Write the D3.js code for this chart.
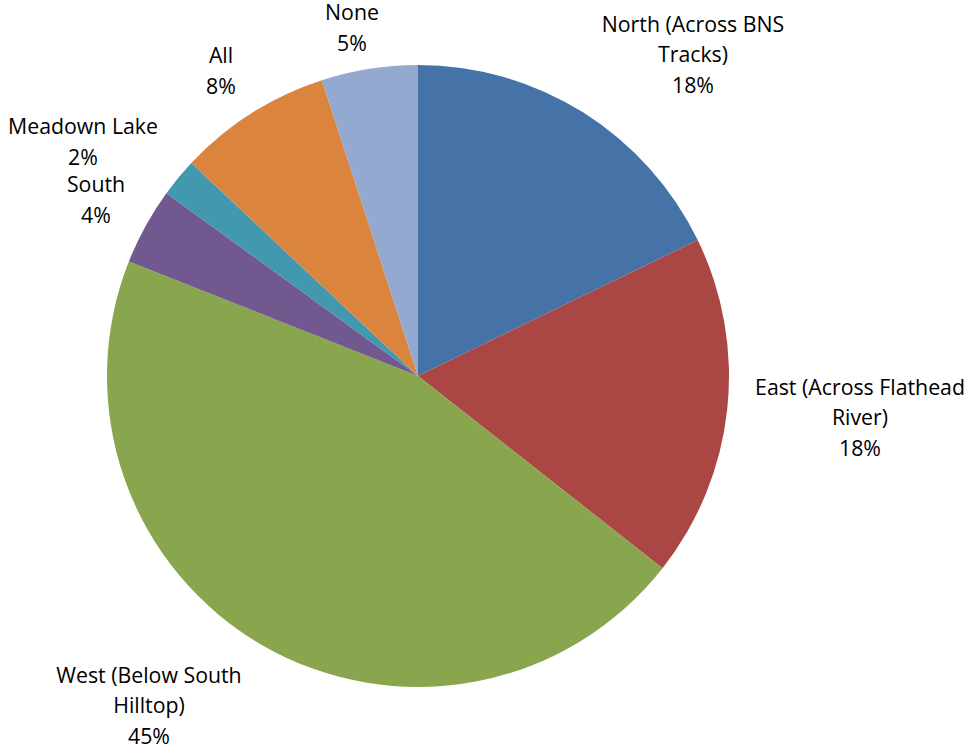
<!DOCTYPE html>
<html>
<head>
<meta charset="utf-8">
<script src="https://cdn.jsdelivr.net/npm/d3@7"></script>
<style>
  body { margin: 0; background: #fff; }
  svg text { font-family: "Open Sans", "Noto Sans", sans-serif; fill: #000; }
</style>
</head>
<body>
<svg id="chart" width="967" height="749"></svg>
<script>
// slice names, split into the lines the labels wrap to
const categories = ["North (Across BNS Tracks)", "East (Across Flathead River)", "West (Below South Hilltop)",
  "South", "Meadown Lake", "All", "None"];
const labelLines = [["North (Across BNS", "Tracks)"], ["East (Across Flathead", "River)"],
  ["West (Below South", "Hilltop)"], ["South"], ["Meadown Lake"], ["All"], ["None"]];
// share of responses, percent
const values = [17.8, 17.8, 45.4, 4.0, 2.0, 8.0, 5.0];
const colors = ["#4572A7", "#AA4643", "#89A54E", "#71588F", "#4198AF", "#DB843D", "#93A9CF"];

// layout
const cx = 418, cy = 376, radius = 311;
const fontSize = 21.3, lineGap = 30.5;
// label block centres, relative to the pie centre
const labelAt = [[275, -321], [442, 42], [-269, 330], [-322, -176], [-335, -234], [-197, -305], [-66, -348]];

const svg = d3.select("#chart");
const g = svg.append("g").attr("transform", `translate(${cx},${cy})`);

const pie = d3.pie().sort(null).value(d => d);
const arcs = pie(values);
const arc = d3.arc().innerRadius(0).outerRadius(radius);

g.selectAll("path.slice")
  .data(arcs)
  .enter().append("path")
    .attr("class", "slice")
    .attr("d", arc)
    .attr("fill", (d, i) => colors[i]);

const total = d3.sum(values);
const pct = d3.format(".0%");

const labels = g.selectAll("g.label")
  .data(arcs)
  .enter().append("g")
    .attr("class", "label")
    .attr("transform", (d, i) => `translate(${labelAt[i][0]},${labelAt[i][1]})`);

labels.each(function(d, i) {
  const lines = labelLines[i].concat([pct(d.value / total)]);
  const top = -(lines.length - 1) * lineGap / 2;
  d3.select(this).selectAll("text")
    .data(lines)
    .enter().append("text")
      .attr("text-anchor", "middle")
      .attr("dy", "0.35em")
      .attr("y", (t, j) => top + j * lineGap)
      .style("font-size", fontSize + "px")
      .text(t => t);
});
</script>
</body>
</html>
